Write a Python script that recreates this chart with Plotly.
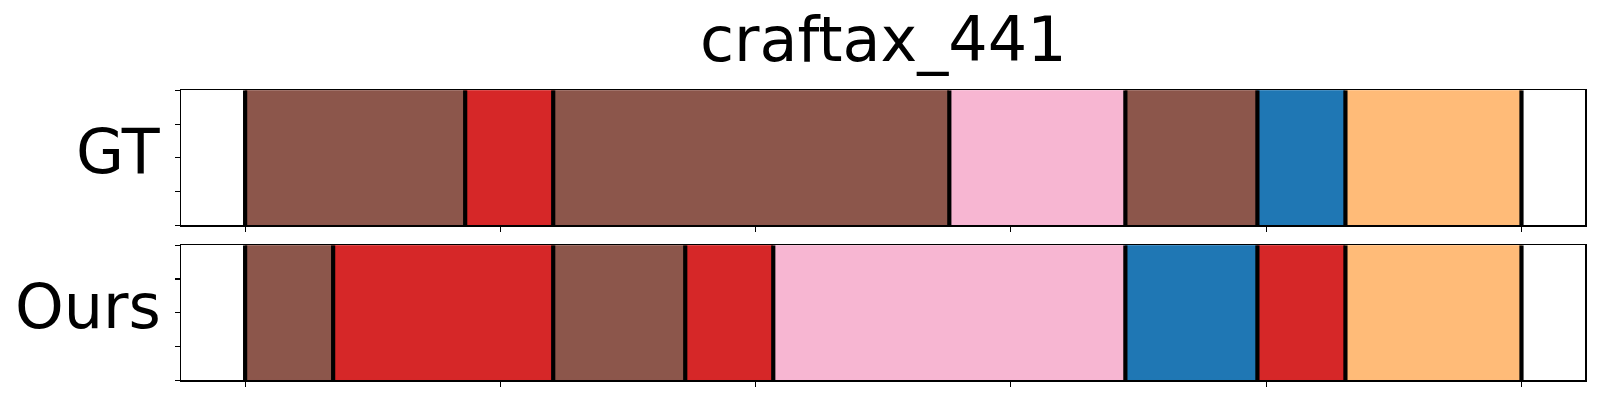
import plotly.graph_objects as go

# ---- data (segment boundaries in time steps, colour labels) ----
title = "craftax_441"
row_labels = ["GT", "Ours"]

gt_bounds = [0, 5, 7, 16, 20, 23, 25, 29]
gt_colors = ["#8c564b", "#d62728", "#8c564b", "#f7b6d2", "#8c564b", "#1f77b4", "#ffbb78"]

ours_bounds = [0, 2, 7, 10, 12, 20, 23, 25, 29]
ours_colors = ["#8c564b", "#d62728", "#8c564b", "#d62728", "#f7b6d2", "#1f77b4", "#d62728", "#ffbb78"]

total = 29
x_ticks = [total * i / 5 for i in range(6)]
y_ticks = [0, 0.25, 0.5, 0.75, 1.0]

W, H = 1600, 400
ax_left, ax_right = 181.3, 1585.3
rows_px = [(90.3, 225.3), (245.3, 380.3)]

fig = go.Figure()

def add_row(idx, bounds, colors):
    xa = "x" if idx == 0 else "x2"
    ya = "y" if idx == 0 else "y2"
    for i, c in enumerate(colors):
        fig.add_trace(go.Bar(
            x=[bounds[i + 1] - bounds[i]], base=[bounds[i]], y=[0.5], width=[1.0],
            orientation="h", marker=dict(color=c, line=dict(color=c, width=1)),
            xaxis=xa, yaxis=ya, showlegend=False, hoverinfo="skip"))
    for b in bounds:
        fig.add_trace(go.Scatter(
            x=[b, b], y=[0, 1], mode="lines", line=dict(color="black", width=4.2),
            xaxis=xa, yaxis=ya, showlegend=False, hoverinfo="skip"))

add_row(0, gt_bounds, gt_colors)
add_row(1, ours_bounds, ours_colors)

margin = 0.05 * total
axis_common = dict(showline=True, mirror=True, linecolor="black", linewidth=1.3,
                   ticks="outside", ticklen=5, tickwidth=1.1, tickcolor="black",
                   showticklabels=False, showgrid=False, zeroline=False)

xdom = [ax_left / W, ax_right / W]
fig.update_layout(
    width=W, height=H, margin=dict(l=0, r=0, t=0, b=0),
    plot_bgcolor="white", paper_bgcolor="white", barmode="overlay",
    font=dict(family="DejaVu Sans", color="black"),
)
for idx, (top, bot) in enumerate(rows_px):
    ydom = [1 - bot / H, 1 - top / H]
    xname = "xaxis" if idx == 0 else "xaxis2"
    yname = "yaxis" if idx == 0 else "yaxis2"
    fig.update_layout(**{
        xname: dict(domain=xdom, range=[-margin, total + margin], tickvals=x_ticks,
                    anchor="y" if idx == 0 else "y2", **axis_common),
        yname: dict(domain=ydom, range=[0, 1], tickvals=y_ticks,
                    anchor="x" if idx == 0 else "x2", **axis_common),
    })
    fig.add_annotation(text=row_labels[idx], xref="paper", yref="paper",
                       x=162.5 / W, y=1 - ((top + bot) / 2 - 6) / H,
                       xanchor="right", yanchor="middle", showarrow=False,
                       font=dict(size=62, family="DejaVu Sans", color="black"))

fig.add_annotation(text=title, xref="paper", yref="paper",
                   x=(ax_left + ax_right) / 2 / W, y=1 - 40 / H,
                   xanchor="center", yanchor="middle", showarrow=False,
                   font=dict(size=62, family="DejaVu Sans", color="black"))

fig.write_html("out.html", config={"displayModeBar": False, "staticPlot": True})

# remove the default page margin so the figure sits at the window's corner
with open("out.html", encoding="utf-8") as f:
    html = f.read()
html = html.replace("<head>", "<head><style>html,body{margin:0;padding:0;overflow:hidden;}</style>", 1)
with open("out.html", "w", encoding="utf-8") as f:
    f.write(html)
